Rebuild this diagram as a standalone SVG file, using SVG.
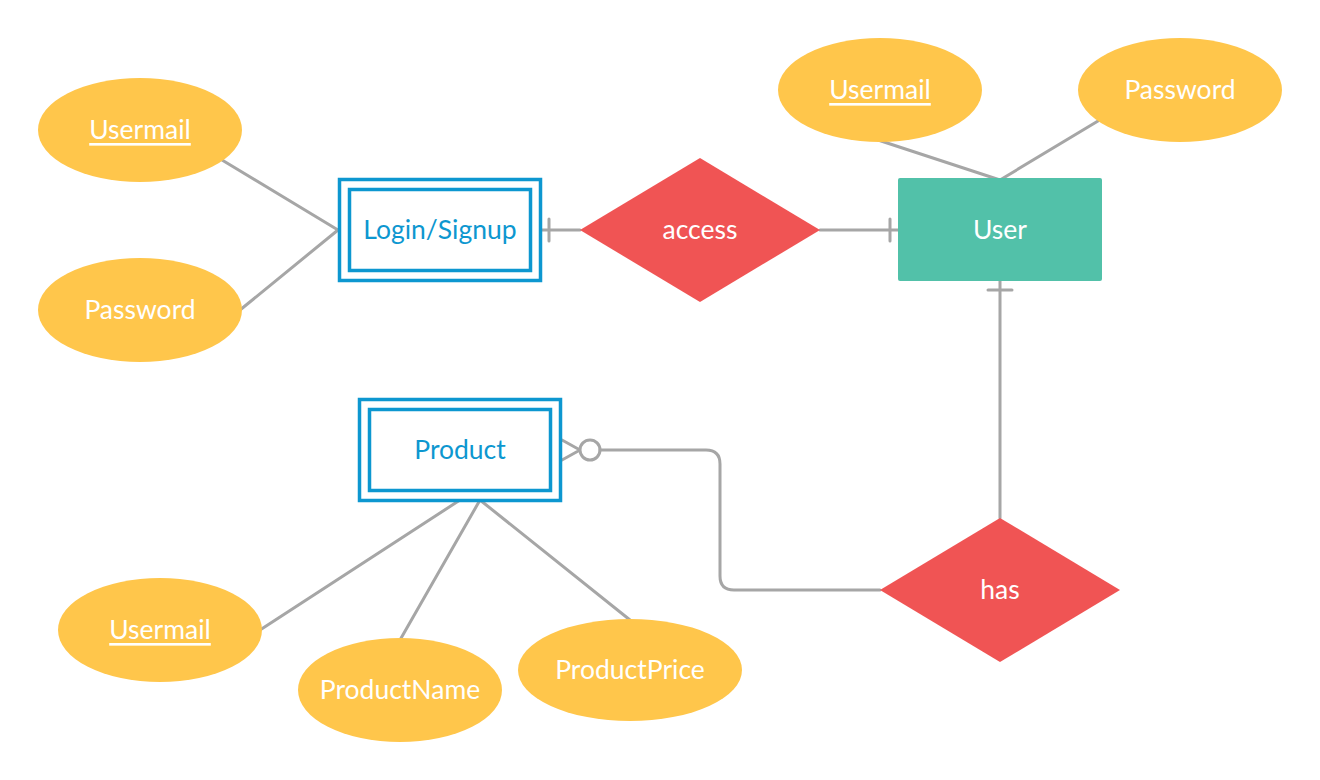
<svg xmlns="http://www.w3.org/2000/svg" width="1320" height="780" viewBox="0 0 1320 780">
  <style>
    .attr { fill: #FFC64B; }
    .rel { fill: #F05454; }
    .weak { fill: #FFFFFF; stroke: #0D97D0; stroke-width: 3.5; }
    .lbl { font-family: Lato, "Liberation Sans", sans-serif; font-size: 26.5px; text-anchor: middle; dominant-baseline: central; }
    .w { fill: #FFFFFF; }
    .b { fill: #0D97D0; }
    .key { text-decoration: underline; }
    .conn { fill: none; stroke: #A6A6A6; stroke-width: 3; stroke-linecap: round; stroke-linejoin: round; }
  </style>
  <rect width="1320" height="780" fill="#FFFFFF"/>

  <!-- connectors -->
  <g id="connectors" class="conn">
    <path d="M222,160 L338,230"/>
    <path d="M240,310 L338,230"/>
    <path d="M541,230 L580,230"/>
    <path d="M549,219 L549,241"/>
    <path d="M820,230 L898,230"/>
    <path d="M890,219 L890,241"/>
    <path d="M878,140 L1000,180"/>
    <path d="M1098,121 L1000,180"/>
    <path d="M1000,281 L1000,518"/>
    <path d="M988,290 L1012,290"/>
    <path d="M562,440 L580,450 L562,460"/>
    <circle cx="590" cy="450" r="10" fill="#FFFFFF"/>
    <path d="M600,450 L706,450 Q720,450 720,464 L720,576 Q720,590 734,590 L880,590"/>
    <path d="M460,500 L260,630"/>
    <path d="M480,500 L400,640"/>
    <path d="M480,500 L630,620"/>
  </g>

  <g id="login-usermail">
    <ellipse class="attr" cx="140" cy="130" rx="102" ry="52"/>
    <text class="lbl w key" x="140" y="129">Usermail</text>
  </g>
  <g id="login-password">
    <ellipse class="attr" cx="140" cy="310" rx="102" ry="52"/>
    <text class="lbl w" x="140" y="309">Password</text>
  </g>
  <g id="login-signup">
    <rect class="weak" x="339.5" y="179.5" width="201" height="101"/>
    <rect class="weak" x="349.5" y="189.5" width="181" height="81"/>
    <text class="lbl b" x="440" y="229">Login/Signup</text>
  </g>
  <g id="access">
    <polygon class="rel" points="580,230 700,158 820,230 700,302"/>
    <text class="lbl w" x="700" y="229">access</text>
  </g>
  <g id="user">
    <rect x="898" y="178" width="204" height="103" rx="2" fill="#52C1A9"/>
    <text class="lbl w" x="1000" y="229">User</text>
  </g>
  <g id="user-usermail">
    <ellipse class="attr" cx="880" cy="90" rx="102" ry="52"/>
    <text class="lbl w key" x="880" y="89">Usermail</text>
  </g>
  <g id="user-password">
    <ellipse class="attr" cx="1180" cy="90" rx="102" ry="52"/>
    <text class="lbl w" x="1180" y="89">Password</text>
  </g>
  <g id="product">
    <rect class="weak" x="359.5" y="399.5" width="201" height="101"/>
    <rect class="weak" x="369.5" y="409.5" width="181" height="81"/>
    <text class="lbl b" x="460" y="449">Product</text>
  </g>
  <g id="has">
    <polygon class="rel" points="880,590 1000,518 1120,590 1000,662"/>
    <text class="lbl w" x="1000" y="589">has</text>
  </g>
  <g id="product-usermail">
    <ellipse class="attr" cx="160" cy="630" rx="102" ry="52"/>
    <text class="lbl w key" x="160" y="629">Usermail</text>
  </g>
  <g id="product-name">
    <ellipse class="attr" cx="400" cy="690" rx="102" ry="52"/>
    <text class="lbl w" x="400" y="689">ProductName</text>
  </g>
  <g id="product-price">
    <ellipse class="attr" cx="630" cy="670" rx="112" ry="51"/>
    <text class="lbl w" x="630" y="669">ProductPrice</text>
  </g>
</svg>
